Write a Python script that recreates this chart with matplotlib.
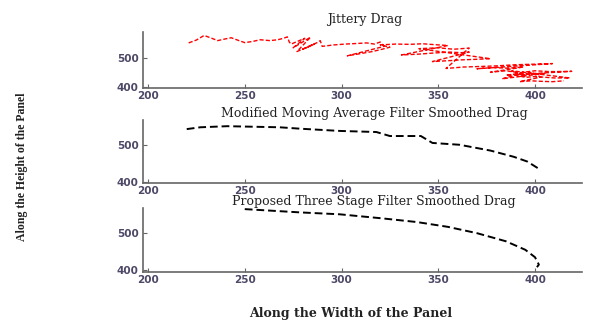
import matplotlib
matplotlib.use('Agg')
import matplotlib.pyplot as plt

# jittery drag (red)
jit_x = [221, 225, 229, 233, 236, 240, 243, 247, 250, 254, 258, 263, 267, 270, 272, 273, 274,
         281, 275, 284, 277, 286, 280, 288, 289, 290,
         296, 302, 308, 313, 317, 320, 322,
         303, 310, 316, 321, 325,
         320, 328, 335, 342, 348, 355,
         331, 340, 348, 356, 362, 366,
         347, 355, 362, 370, 377,
         340, 350, 358, 366,
         354, 363, 372, 380, 390, 400, 409,
         370, 378, 386, 394,
         377, 385, 392, 400, 408, 419,
         385, 392, 398, 405,
         383, 390, 395, 400, 410, 418,
         388, 393, 398, 403,
         392, 398, 404, 409, 415]
jit_y = [552, 562, 578, 568, 560, 566, 570, 560, 553, 557, 563, 560, 563, 568, 573, 555, 548,
         568, 535, 572, 522, 548, 530, 555, 560, 540,
         545, 548, 550, 552, 548, 555, 540,
         507, 515, 522, 530, 537,
         545, 548, 547, 549, 546, 543,
         510, 513, 517, 520, 518, 520,
         487, 490, 493, 495, 497,
         532, 535, 530, 534,
         463, 468, 470, 472, 476, 478, 480,
         462, 466, 464, 468,
         450, 455, 448, 455, 452, 453,
         440, 445, 442, 446,
         427, 440, 432, 435, 430, 430,
         455, 437, 450, 433,
         417, 420, 418, 417, 420]

# modified moving average filter
mma_x = [220, 227, 241, 268, 279, 299, 318, 325, 341, 347, 361, 377, 389, 396, 402.6]
mma_y = [545, 550, 553, 550, 546, 540, 537, 526, 526, 507, 502, 486, 469, 456, 434]

# proposed three stage filter
pts_x = [250, 279, 299, 321, 339, 355, 370, 385, 395, 400, 402, 401]
pts_y = [565, 556, 551, 540, 530, 517, 500, 478, 455, 435, 415, 408]

titles = ['Jittery Drag',
          'Modified Moving Average Filter Smoothed Drag',
          'Proposed Three Stage Filter Smoothed Drag']

W, H = 595, 324
fig = plt.figure(figsize=(W / 100, H / 100), dpi=100)

# axes boxes in pixels: (top, bottom)
boxes = [(32, 88), (120, 183), (208, 272)]
ylims = [(395, 590), (397, 570), (395, 568)]
title_y = [19, 114, 202]
title_x = [365, 374, 374]
series = [(jit_x, jit_y, 'red', 1.0, (3, 1.5)),
          (mma_x, mma_y, 'black', 1.4, (4, 2)),
          (pts_x, pts_y, 'black', 1.4, (4, 2))]

left, right = 143, 582
tick_col = '#4d4866'
for i in range(3):
    top, bot = boxes[i]
    ax = fig.add_axes([left / W, 1 - bot / H, (right - left) / W, (bot - top) / H])
    xs, ys, col, lw, dash = series[i]
    ax.plot(xs, ys, color=col, lw=lw, linestyle=(0, dash))
    ax.set_xlim(197.4, 424.3)
    ax.set_ylim(*ylims[i])
    ax.set_xticks([200, 250, 300, 350, 400])
    ax.set_yticks([400, 500])
    for s in ['top', 'right']:
        ax.spines[s].set_visible(False)
    for s in ['left', 'bottom']:
        ax.spines[s].set_color('#666666')
        ax.spines[s].set_linewidth(1.2)
    ax.tick_params(direction='in', length=3, color='#666666', labelsize=7.5,
                   labelcolor=tick_col, pad=3)
    ax.tick_params(axis='x', pad=2)
    for lab in ax.get_xticklabels() + ax.get_yticklabels():
        lab.set_fontweight('bold')
    fig.text(title_x[i] / W, 1 - title_y[i] / H, titles[i], ha='center', va='center',
             family='DejaVu Serif', fontsize=9, color='#222222')

fig.text(351 / W, 1 - 313 / H, 'Along the Width of the Panel', ha='center', va='center',
         family='DejaVu Serif', fontweight='bold', fontsize=9, color='#222222')
fig.text(22 / W, 1 - 167 / H, 'Along the Height of the Panel', ha='center', va='center',
         rotation=90, family='Liberation Serif', fontweight='bold', fontsize=8.5,
         color='#222222')

fig.savefig('out.png', dpi=100)
